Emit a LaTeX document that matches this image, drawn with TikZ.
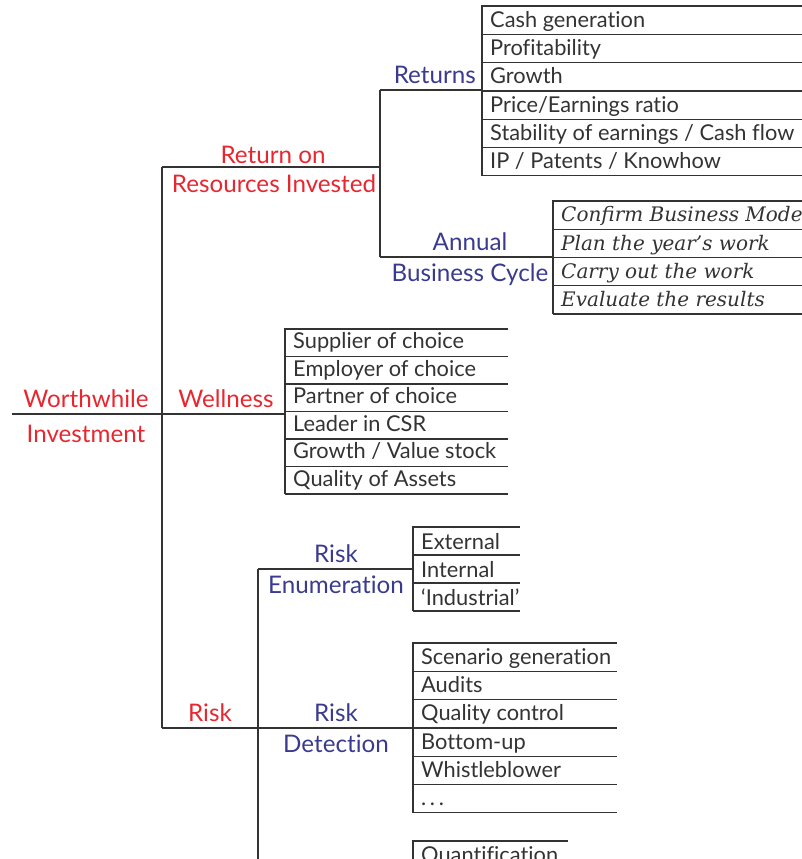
\documentclass[tikz,border=0pt]{standalone}
\usepackage{fontspec}
\setmainfont{Lato}[Ligatures=NoCommon]
\newfontfamily\itserif{DejaVu Serif}
\definecolor{inkgray}{HTML}{333333}
\definecolor{headred}{HTML}{E8262F}
\definecolor{headblue}{HTML}{3A3A8E}
\tikzset{
  branch/.style={draw=inkgray, line width=2.5pt},
  rowrule/.style={draw=inkgray, line width=1.2pt},
  redlbl/.style={text=headred, font=\fontsize{24.2}{28}\selectfont, inner sep=0pt, anchor=base},
  bluelbl/.style={text=headblue, font=\fontsize{24.2}{28}\selectfont, inner sep=0pt, anchor=base},
  rowtext/.style={text=inkgray, font=\fontsize{21.8}{24}\selectfont, anchor=base west, inner sep=0pt},
  ittext/.style={text=inkgray, font=\itserif\itshape\fontsize{20}{24}\selectfont, anchor=base west, inner sep=0pt},
}
% A list box: left rule, horizontal rules, one text per row
% #1 name, #2 left x, #3 top y, #4 right x, #5 row height, #6 style,
% #7 list of texts, #8 gap from baseline to the rule below
\newcommand\listbox[8]{%
  \foreach \t [count=\i] in {#7} {
    \node[#6] (#1-\i) at (#2+8, #3+\i*#5-#8) {\t};
    \draw[rowrule] (#2, #3+\i*#5) -- (#4, #3+\i*#5);
    \xdef\rowcount{\i}
  }
  \draw[rowrule] (#4, #3) -- (#2, #3) -- (#2, #3+\rowcount*#5);
}
\begin{document}
\begin{tikzpicture}[x=1pt, y=-1pt]
\useasboundingbox (0,0) rectangle (802,859);
\clip (0,0) rectangle (802,859);

% junction points of the tree
\coordinate (root) at (12,414);
\coordinate (spineTop) at (162,167);
\coordinate (spineBot) at (162,728);
\coordinate (retTop) at (380,90);
\coordinate (retBot) at (380,257);
\coordinate (rr) at (258,569);
\coordinate (rrBot) at (258,859);

% list boxes
\listbox{ret}{482}{6}{802}{28.3}{rowtext}{Cash generation, Profitability, Growth, Price/Earnings ratio, Stability of earnings / Cash flow, IP / Patents / Knowhow}{7}
\listbox{abc}{553}{201}{802}{28.25}{ittext}{Confirm Business Model, Plan the year’s work, Carry out the work, Evaluate the results}{7.5}
\listbox{wel}{285}{329}{508}{27.5}{rowtext}{Supplier of choice, Employer of choice, Partner of choice, Leader in CSR, Growth / Value stock, Quality of Assets}{8}
\listbox{enu}{413}{527}{520}{28}{rowtext}{External, Internal, ‘Industrial’}{6}
\listbox{det}{413}{643}{617}{28.3}{rowtext}{Scenario generation, Audits, Quality control, Bottom-up, Whistleblower, {.\,.\,.}}{7}
\listbox{qua}{413}{841}{568}{28}{rowtext}{Quantification}{7}

% junctions on the list boxes
\coordinate (welJoin) at (285,414);
\coordinate (retJoin) at (482,90);
\coordinate (abcJoin) at (553,257);
\coordinate (detJoin) at (413,728);
\coordinate (enuJoin) at (413,569);

% tree branches
\draw[branch] (root) -- (welJoin);
\draw[branch] (spineTop) -- (spineBot);
\draw[branch] (spineTop) -- (retTop |- spineTop);
\draw[branch] (retTop) -- (retBot);
\draw[branch] (retTop) -- (retJoin);
\draw[branch] (retBot) -- (abcJoin);
\draw[branch] (spineBot) -- (detJoin);
\draw[branch] (rr) -- (enuJoin);
\draw[branch] (rr) -- (rrBot);

% labels
\node[redlbl] (worth) at (86,407) {Worthwhile};
\node[redlbl] (invest) at (86,442) {Investment};
\node[redlbl] (well) at (226,407) {Wellness};
\node[redlbl] (roa) at (273,163) {Return on};
\node[redlbl] (rob) at (274,192) {Resources Invested};
\node[redlbl] (risk) at (210,721) {Risk};
\node[bluelbl, anchor=base east] (returns) at (476,83) {Returns};
\node[bluelbl] (ann) at (470,250) {Annual};
\node[bluelbl] (bc) at (470,281) {Business Cycle};
\node[bluelbl] (enA) at (336,562) {Risk};
\node[bluelbl] (enB) at (336,593) {Enumeration};
\node[bluelbl] (deA) at (336,721) {Risk};
\node[bluelbl] (deB) at (336,752) {Detection};
\end{tikzpicture}
\end{document}
